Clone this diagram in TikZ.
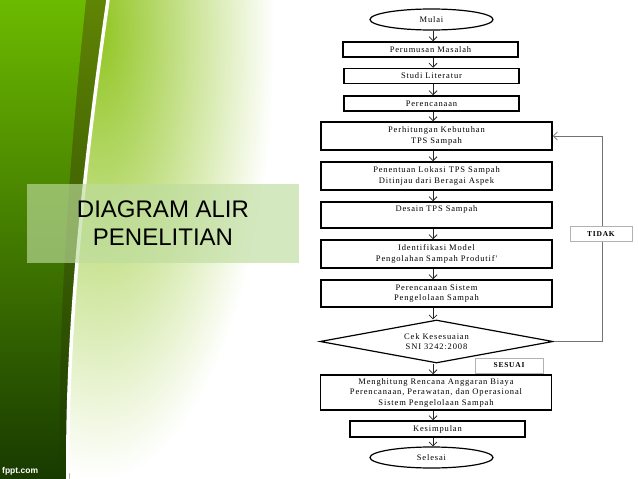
\documentclass[tikz,border=0pt]{standalone}
\usepackage{fontspec}
\setmainfont{Liberation Serif}
\newfontfamily\judulfont{Liberation Sans}
\newfontfamily\alurfont[LetterSpace=10]{Liberation Serif}
\usetikzlibrary{shapes,arrows.meta}

\begin{document}
\begin{tikzpicture}[x=1pt,y=-1pt,
	kotak/.style={draw,line width=1.5pt,fill=white,inner sep=0pt,align=center,minimum width=175pt,minimum height=15pt,font=\alurfont\fontsize{8.5}{10.5}\selectfont},
	kotakbesar/.style={kotak,minimum width=231pt,minimum height=27pt},
	bulat/.style={kotak,ellipse,line width=1.2pt,minimum width=123pt,minimum height=21pt},
	cekbox/.style={kotak,diamond,aspect=5.4,line width=1.2pt,minimum width=233pt,minimum height=43pt},
	labelbox/.style={draw=black!30,line width=0.8pt,fill=white,inner sep=0pt,minimum height=15pt,font=\alurfont\bfseries\fontsize{7.5}{9}\selectfont},
	panah/.style={line width=0.8pt,black!85,-{Straight Barb[length=4pt,width=8pt]}},
	balik/.style={line width=0.8pt,black!55,-{Straight Barb[length=4pt,width=8pt]}}
	]
					\definecolor{hijauatas}{RGB}{108,186,0}
					\definecolor{hijautengah}{RGB}{45,112,0}
					\definecolor{hijaubawah}{RGB}{24,58,0}
					\definecolor{zaitun}{RGB}{96,132,4}
					\definecolor{daun}{RGB}{146,198,36}
					\definecolor{kotakjudul}{RGB}{190,220,158}
					\useasboundingbox (0,0) rectangle (638,479);
					\fill[white] (0,0) rectangle (638,479);
					\shade[top color=zaitun,bottom color=hijaubawah] (0,0) -- (110,0) .. controls (87,160) and (68,330) .. (70,479) -- (0,479) -- cycle;
					\shade[top color=hijauatas,middle color=hijautengah,bottom color=hijaubawah] (0,0) -- (86,0) .. controls (69,160) and (57,330) .. (60,479) -- (0,479) -- cycle;
					\begin{scope}
						\clip (108,0) .. controls (85,160) and (66,330) .. (68,479) -- (300,479) -- (300,0) -- cycle;
						\shade[inner color=daun,outer color=white] (100,30) ellipse (175 and 450);
					\end{scope}
					\draw[white,line width=3.5pt] (108,0) .. controls (85,160) and (66,330) .. (68,479);
					\node[fill=kotakjudul,fill opacity=0.65,text opacity=1,minimum width=272pt,minimum height=79pt,inner sep=0pt,align=center,font=\judulfont\fontsize{24}{28}\selectfont] (judul) at (163,223.5) {DIAGRAM ALIR\\PENELITIAN};
					\node[white,font=\judulfont\bfseries\fontsize{8.5}{10}\selectfont,anchor=west,inner sep=0pt] (fppt) at (2,471) {fppt.com};
					\coordinate (poros) at (433,0);
					\node[bulat] (mulai) at (431.5,19.5) {Mulai};
					\node[kotak] (rumus) at (430.5,49.5) {Perumusan Masalah};
					\node[kotak] (studi) at (431.5,76) {Studi Literatur};
					\node[kotak] (rencana) at (431.5,103.5) {Perencanaan};
					\node[kotakbesar,minimum height=28pt] (hitung) at (436.5,136) {Perhitungan Kebutuhan\\TPS Sampah};
					\node[kotakbesar,minimum height=28pt] (lokasi) at (436.5,176) {Penentuan Lokasi TPS Sampah\\Ditinjau dari Beragai Aspek};
					\node[kotakbesar,minimum height=26pt] (desain) at (436.5,215) {Desain TPS Sampah\\[2pt]};
					\node[kotakbesar,minimum height=28pt] (model) at (436.5,254) {Identifikasi Model\\Pengolahan Sampah Produtif'};
					\node[kotakbesar] (sistem) at (436.5,293.5) {Perencanaan Sistem\\Pengelolaan Sampah};
					\node[cekbox] (cek) at (436.5,341.5) {Cek Kesesuaian\\SNI 3242:2008};
					\node[kotakbesar,minimum height=35pt] (anggaran) at (436,392.5) {Menghitung Rencana Anggaran Biaya\\Perencanaan, Perawatan, dan Operasional\\Sistem Pengelolaan Sampah};
					\node[kotak,minimum height=16pt] (simpul) at (437.5,429) {Kesimpulan};
					\node[bulat] (selesai) at (431.5,457.5) {Selesai};
					\foreach \a/\b in {mulai/rumus,rumus/studi,studi/rencana,rencana/hitung,hitung/lokasi,lokasi/desain,desain/model,model/sistem,sistem/cek,cek/anggaran,anggaran/simpul,simpul/selesai}
						\draw[panah] (\a.south -| poros) -- (\b.north -| poros);
					\coordinate (belok) at (602,136);
					\draw[balik] (cek.east) -| (belok) -- (hitung.east);
					\node[labelbox,minimum width=62pt] (tidak) at (601,234) {TIDAK};
					\node[labelbox,minimum width=68pt] (sesuai) at (509,365.5) {SESUAI};
				\end{tikzpicture}
\end{document}
